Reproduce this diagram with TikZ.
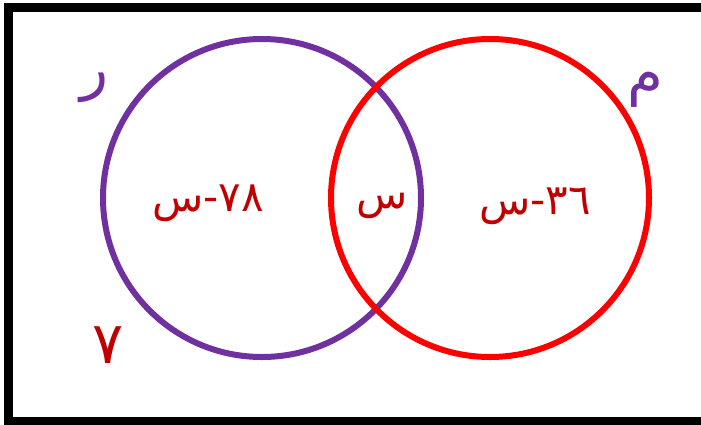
\documentclass[tikz,border=0pt]{standalone}
\usepackage{fontspec}
\TeXXeTstate=1
\newfontfamily\arabicfont[Script=Arabic]{DejaVu Sans}
\definecolor{vpurple}{HTML}{7030A0}
\definecolor{vred}{HTML}{FF0000}
\definecolor{tred}{HTML}{C00000}
\begin{document}
\begin{tikzpicture}[x=1pt,y=-1pt,
  settxt/.style={text=tred,font=\arabicfont\fontsize{42}{50}\selectfont,inner sep=0pt},
  setlbl/.style={text=vpurple,font=\arabicfont\fontsize{58}{66}\selectfont,inner sep=0pt}]
\useasboundingbox (0,0) rectangle (701,424);
\draw[line width=9pt] (8.5,7) rectangle (706,421);
\node[circle,draw=vpurple,line width=6pt,minimum size=318pt,inner sep=0pt] (R) at (262,198) {};
\node[circle,draw=vred,line width=6pt,minimum size=318pt,inner sep=0pt] (M) at (490,198) {};
\node[settxt] (a) at (208,203) {\beginR ٧٨-س\endR};
\node[settxt] (b) at (382,206) {\beginR س\endR};
\node[settxt] (c) at (535,206) {\beginR ٣٦-س\endR};
\node[setlbl] (r) at (95,88) {\beginR ر\endR};
\node[setlbl] (m) at (645,90) {\beginR م\endR};
\node[settxt,font=\arabicfont\fontsize{58}{66}\selectfont] (n) at (108,345) {\beginR ٧\endR};
\end{tikzpicture}
\end{document}
